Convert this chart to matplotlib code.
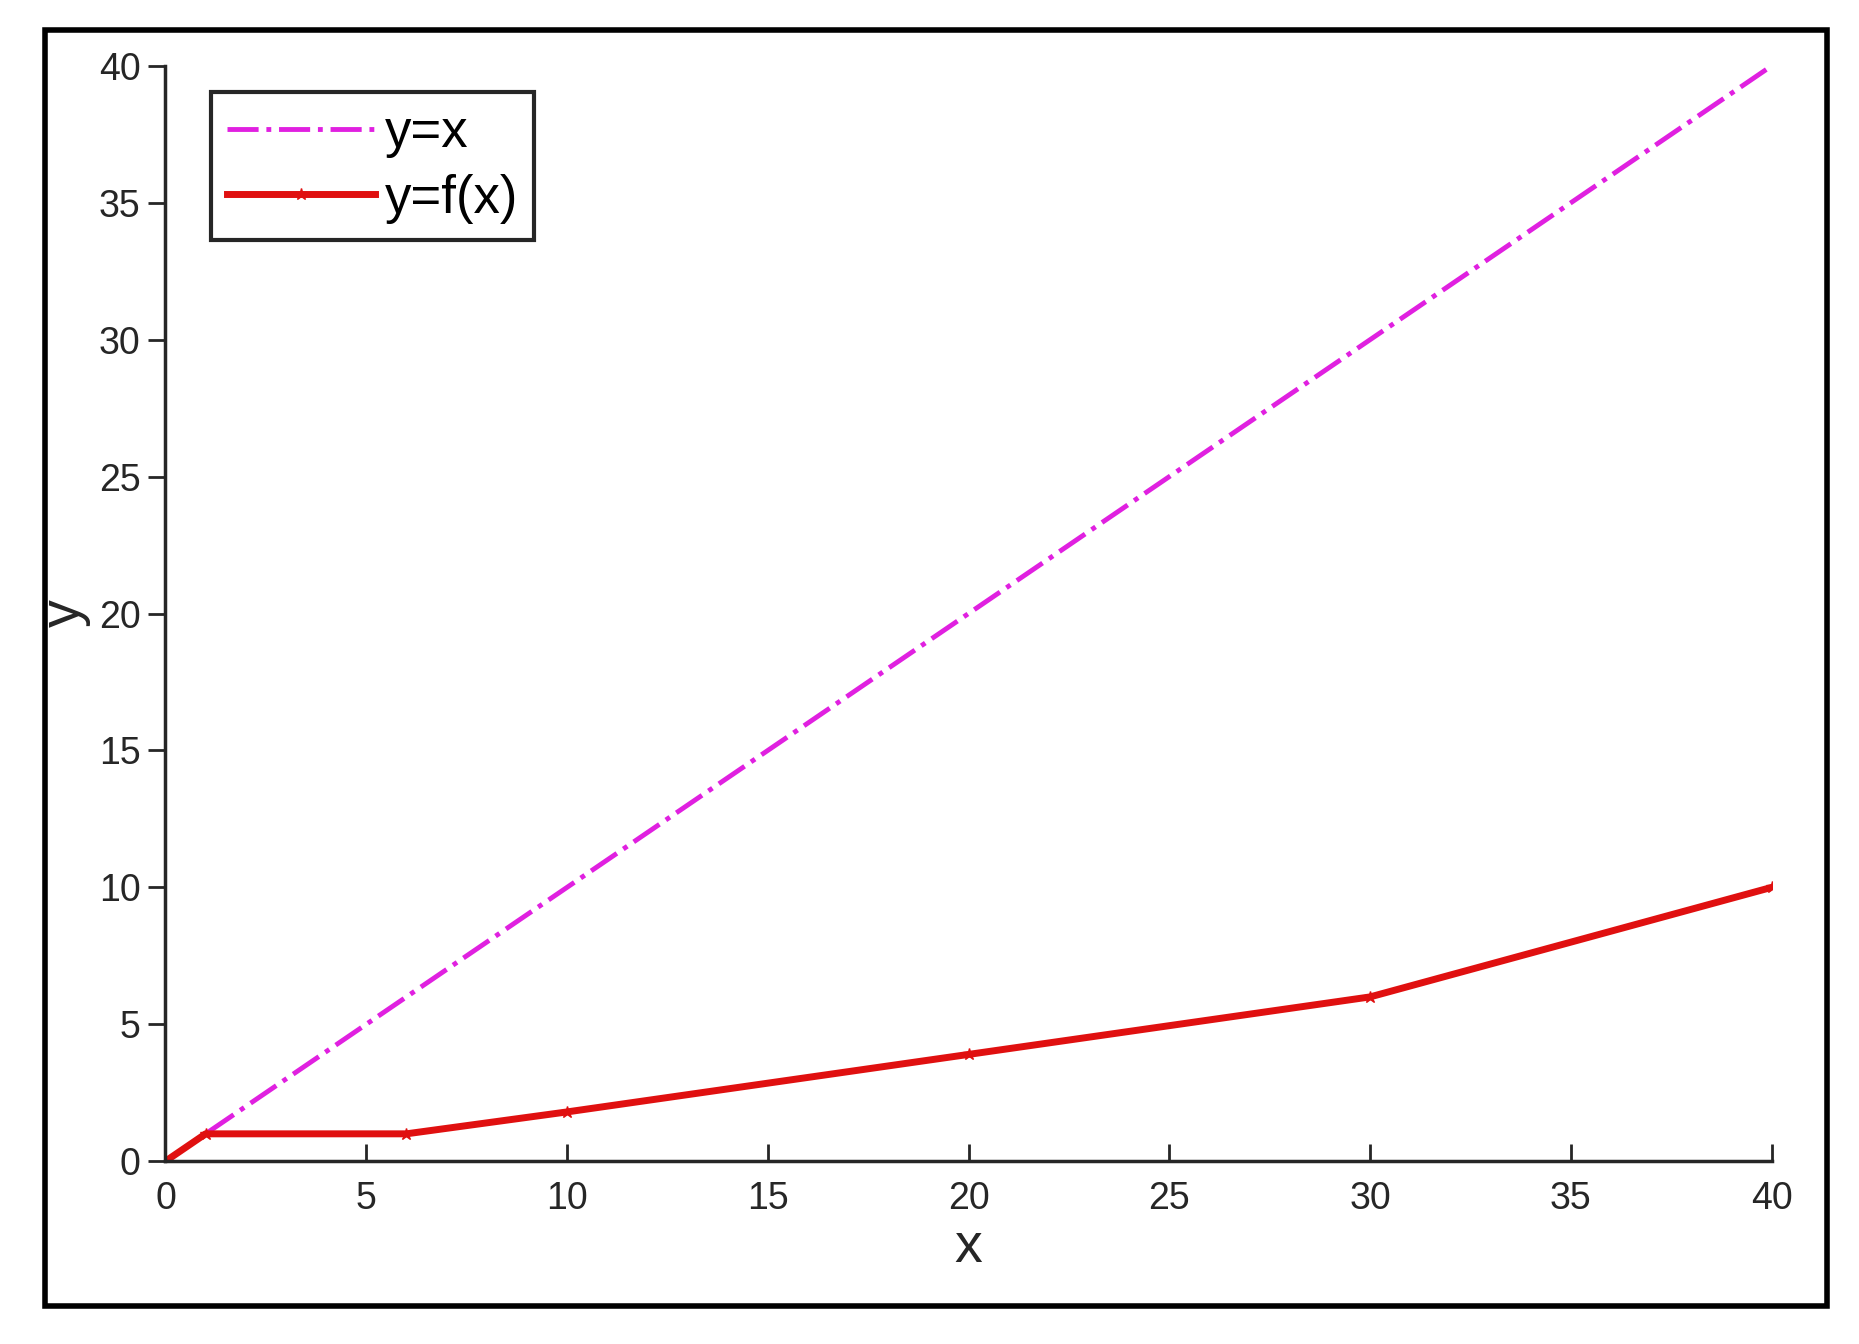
import matplotlib
matplotlib.use("Agg")
import matplotlib.pyplot as plt
from matplotlib.patches import Rectangle

plt.rcParams['font.family'] = ['Liberation Sans', 'DejaVu Sans']

x_line = [0, 40]
y_line = [0, 40]
x_f = [0, 1, 6, 10, 20, 30, 40]
y_f = [0, 1, 1, 1.8, 3.9, 6, 10]
xticks = [0, 5, 10, 15, 20, 25, 30, 35, 40]
yticks = [0, 5, 10, 15, 20, 25, 30, 35, 40]

fig = plt.figure(figsize=(18.59, 13.44), dpi=100)
ax = fig.add_axes([0.089, 0.136, 0.864, 0.815])
ax.plot(x_line, y_line, color='#e020e0', ls='-.', lw=3.5, label='y=x')
ax.plot(x_f, y_f, color='#e01010', ls='-', lw=5, marker='*', ms=9, label='y=f(x)')
ax.set_xlim(0, 40); ax.set_ylim(0, 40)
ax.set_xticks(xticks); ax.set_yticks(yticks)
for s in ['top', 'right']:
    ax.spines[s].set_visible(False)
for s in ['left', 'bottom']:
    ax.spines[s].set_linewidth(2.5); ax.spines[s].set_color('#262626')
ax.tick_params(axis='x', direction='in', length=12, width=2, labelsize=27, colors='#262626', pad=14)
ax.tick_params(axis='y', direction='out', length=12, width=2, labelsize=27, colors='#262626', pad=6)
ax.set_xlabel('x', fontsize=40, color='#262626', labelpad=4)
ax.set_ylabel('y', fontsize=40, color='#262626', labelpad=6)
leg = ax.legend(loc='upper left', fontsize=38, fancybox=False, edgecolor='#262626',
                handlelength=2.8, handletextpad=0.2, borderaxespad=0.5, framealpha=1,
                borderpad=0.3, labelspacing=0.3, bbox_to_anchor=(0.012, 1.0))
leg.get_frame().set_linewidth(3)
fig.patches.append(Rectangle((0.024, 0.028), 0.959, 0.95, transform=fig.transFigure,
                             fill=False, lw=4, edgecolor='black'))
fig.savefig('out.png', dpi=100)
